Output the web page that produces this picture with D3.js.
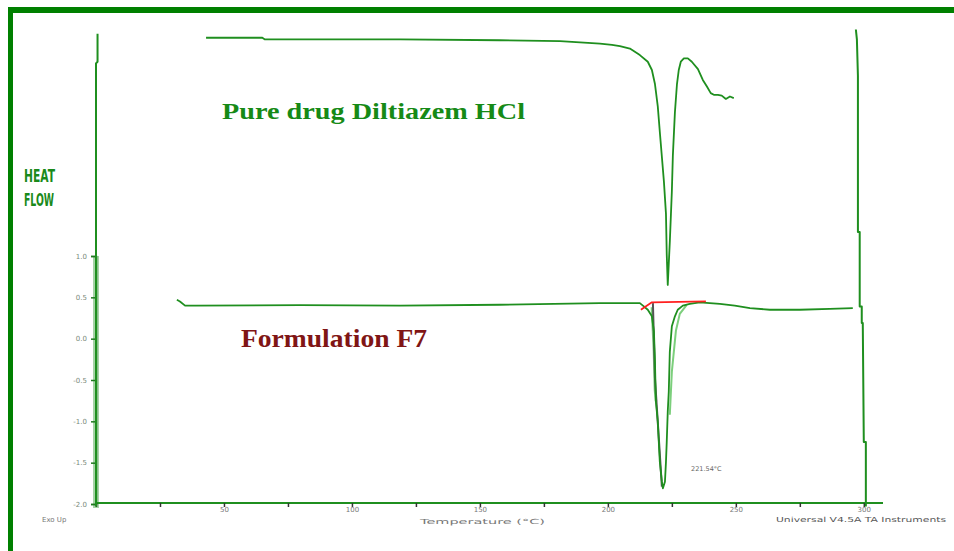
<!DOCTYPE html>
<html>
<head>
<meta charset="utf-8">
<script src="https://cdn.jsdelivr.net/npm/d3@7"></script>
<style>
  html, body { margin: 0; padding: 0; background: #ffffff; }
  svg { display: block; }
</style>
</head>
<body>
<svg id="chart" width="954" height="551"></svg>
<script>
// ---- data (temperature °C, heat flow W/g) ----
const pureDrug = [
  [43.0, 3.64], [65.0, 3.64], [66.0, 3.62], [118.8, 3.62], [157.8, 3.61], [181.3, 3.60],
  [196.9, 3.57], [201.6, 3.555], [204.7, 3.54], [208.6, 3.51], [212.5, 3.43], [215.6, 3.35],
  [217.2, 3.25], [218.4, 3.08], [219.5, 2.81], [220.3, 2.50], [221.1, 2.20], [221.9, 1.90],
  [222.7, 1.51], [223.0, 1.02], [223.4, 0.65], [224.2, 1.17], [225.0, 1.78], [225.4, 2.22],
  [226.2, 2.74], [227.0, 3.08], [227.7, 3.25], [228.5, 3.35], [229.7, 3.39], [231.25, 3.39],
  [232.8, 3.35], [235.2, 3.26], [237.1, 3.13], [238.7, 3.05], [240.2, 2.97], [241.4, 2.95],
  [243.0, 2.95], [244.5, 2.94], [246.1, 2.90], [247.7, 2.93], [249.2, 2.91]
];
const formulationF7 = [
  [31.6, 0.47], [32.8, 0.45], [34.8, 0.40], [38.7, 0.40], [79.7, 0.405], [118.75, 0.40],
  [157.8, 0.41], [196.9, 0.43], [212.5, 0.43], [213.7, 0.40], [215.6, 0.35], [217.2, 0.27],
  [218.0, 0.085], [218.4, -0.28], [218.75, -0.76], [219.5, -1.0], [219.9, -1.25], [220.3, -1.49],
  [221.1, -1.73], [221.5, -1.81], [222.3, -1.73], [222.7, -1.49], [223.0, -1.25], [223.4, -0.88],
  [223.8, -0.64], [224.2, -0.16], [225.0, 0.15], [226.2, 0.27], [227.3, 0.35], [229.3, 0.40],
  [232.0, 0.42], [235.9, 0.44], [243.75, 0.42], [249.6, 0.40], [255.5, 0.37], [263.3, 0.35],
  [275.0, 0.35], [286.7, 0.36], [295.7, 0.37]
];
const startTransient = [[0.6, 3.69], [0.6, 3.35], [0.0, 3.33], [0.0, -2.03]];
const endTransient = [
  [296.9, 3.74], [297.3, 3.62], [297.7, 3.18], [297.7, 2.26], [297.7, 1.29], [298.4, 1.29],
  [298.4, 0.39], [299.2, 0.39], [299.2, 0.19], [299.6, 0.19], [300.0, -1.25], [300.8, -1.25],
  [300.8, -2.03]
];
// grey overlay trace and light-green overlay traces around the F7 peak
const greyOverlay = [[217.6, 0.43], [218.4, -0.48], [219.9, -1.2], [221.1, -1.79]];
const lightOverlayLeft = [[217.2, 0.38], [218.0, -0.15], [218.4, -0.62], [218.8, -0.76]];
const lightOverlayRight = [[224.2, -0.92], [225.0, -0.40], [226.6, 0.10], [228.1, 0.30], [230.8, 0.41]];
const baselineRed = [[212.9, 0.35], [217.2, 0.44], [238.3, 0.45]];

const xTickValues = [0, 25, 50, 75, 100, 125, 150, 175, 200, 225, 250, 275, 300];
const xTickLabels = {50: "50", 100: "100", 150: "150", 200: "200", 250: "250", 300: "300"};
const yTickValues = [1, 0.5, 0, -0.5, -1, -1.5, -2];
const yTickLabels = ["1.0", "0.5", "0.0", "-0.5", "-1.0", "-1.5", "-2.0"];

const peakLabel = "221.54°C";
const peakLabelPos = [232.5, -1.6];

// ---- drawing ----
const svg = d3.select("#chart");
const x = d3.scaleLinear().domain([0, 307.5]).range([96, 883]);
const y = d3.scaleLinear().domain([-2, 1]).range([504, 256]);

const lineGreen = "#1f8f1f";

// frame (top and left border)
svg.append("rect").attr("x", 8).attr("y", 7).attr("width", 946).attr("height", 6).attr("fill", "#008000");
svg.append("rect").attr("x", 8).attr("y", 7).attr("width", 5).attr("height", 544).attr("fill", "#008000");

// y axis band
svg.append("rect").attr("x", 93).attr("y", y(1)).attr("width", 6)
  .attr("height", y(-2) - y(1) + 4).attr("fill", "#a6d3a6");

// y axis
const yAxis = d3.axisLeft(y).tickValues(yTickValues).tickSize(5)
  .tickFormat((d, i) => yTickLabels[i]);
const gy = svg.append("g").attr("transform", "translate(96,0)").call(yAxis);
gy.select(".domain").attr("stroke", "#2e7d2e").attr("stroke-width", 1.5);
gy.selectAll(".tick line").attr("stroke", "#1f7a1f").attr("stroke-width", 1.5);
gy.selectAll(".tick text").attr("fill", "#7a8a7a").attr("font-size", 7)
  .attr("font-family", "DejaVu Sans").attr("x", -9);

// x axis
const xAxis = d3.axisBottom(x).tickValues(xTickValues).tickSize(4)
  .tickFormat(d => xTickLabels[d] || "");
const gx = svg.append("g").attr("transform", "translate(0,503)").call(xAxis);
gx.select(".domain").attr("stroke", lineGreen).attr("stroke-width", 2)
  .attr("d", `M${x(0)},0H${x(307.5)}`);
gx.selectAll(".tick line").attr("stroke", "#333").attr("stroke-width", 1.5);
gx.selectAll(".tick text").attr("fill", "#777").attr("font-size", 7)
  .attr("font-family", "DejaVu Sans").attr("dy", "0.3em");

const line = d3.line().x(d => x(d[0])).y(d => y(d[1]));

function drawPath(data, color, width) {
  svg.append("path").datum(data).attr("d", line)
    .attr("fill", "none").attr("stroke", color).attr("stroke-width", width)
    .attr("stroke-linejoin", "round");
}

drawPath(startTransient, lineGreen, 2);
drawPath(endTransient, lineGreen, 2);
drawPath(lightOverlayLeft, "#7ccf7c", 2.5);
drawPath(lightOverlayRight, "#7ccf7c", 2);
drawPath(greyOverlay, "#555555", 2);
drawPath(pureDrug, lineGreen, 1.8);
drawPath(formulationF7, lineGreen, 1.8);
drawPath(baselineRed, "#ff2020", 1.8);

// peak label
svg.append("text").attr("x", x(peakLabelPos[0])).attr("y", y(peakLabelPos[1]))
  .attr("font-family", "DejaVu Sans").attr("font-size", 6.5).attr("fill", "#666")
  .text(peakLabel);

// annotations
svg.append("text").attr("x", 222).attr("y", 119)
  .attr("font-family", "Liberation Serif").attr("font-weight", "bold").attr("font-size", 23)
  .attr("fill", "#168a16").attr("textLength", 303).attr("lengthAdjust", "spacingAndGlyphs")
  .text("Pure drug Diltiazem HCl");
svg.append("text").attr("x", 241).attr("y", 347)
  .attr("font-family", "Liberation Serif").attr("font-weight", "bold").attr("font-size", 25)
  .attr("fill", "#801515").attr("textLength", 186).attr("lengthAdjust", "spacingAndGlyphs")
  .text("Formulation F7");

// y label
svg.append("text").attr("x", 24).attr("y", 182)
  .attr("font-family", "DejaVu Sans Condensed").attr("font-weight", "bold").attr("font-size", 17)
  .attr("fill", "#1a8a1a").attr("textLength", 31).attr("lengthAdjust", "spacingAndGlyphs")
  .text("HEAT");
svg.append("text").attr("x", 24).attr("y", 206)
  .attr("font-family", "DejaVu Sans Condensed").attr("font-weight", "bold").attr("font-size", 17)
  .attr("fill", "#1a8a1a").attr("textLength", 30).attr("lengthAdjust", "spacingAndGlyphs")
  .text("FLOW");

// bottom texts
svg.append("text").attr("x", 42).attr("y", 522)
  .attr("font-family", "DejaVu Sans").attr("font-size", 7).attr("fill", "#777")
  .text("Exo Up");
svg.append("text").attr("x", 420).attr("y", 524)
  .attr("font-family", "DejaVu Sans").attr("font-size", 7).attr("fill", "#777")
  .attr("textLength", 125).attr("lengthAdjust", "spacingAndGlyphs")
  .text("Temperature (°C)");
svg.append("text").attr("x", 776).attr("y", 522)
  .attr("font-family", "DejaVu Sans").attr("font-size", 7).attr("fill", "#555")
  .attr("textLength", 170).attr("lengthAdjust", "spacingAndGlyphs")
  .text("Universal V4.5A TA Instruments");
</script>
</body>
</html>
